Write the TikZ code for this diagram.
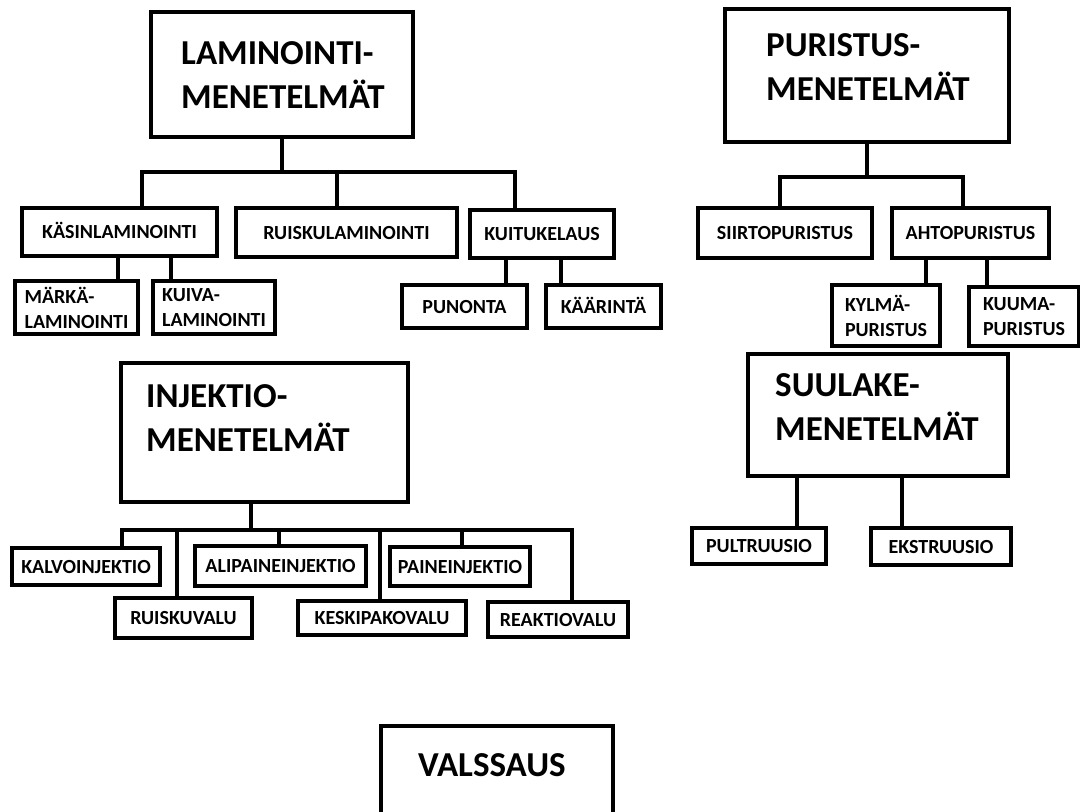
\documentclass[tikz,border=0pt]{standalone}
\usepackage{fontspec}
\setmainfont{Carlito}
\usetikzlibrary{positioning}

\begin{document}
\begin{tikzpicture}
[x=1pt, y=-1pt,
MethodNode/.style={rectangle, draw=black, line width=4.5pt, inner sep=0pt},
BoxBase/.style={rectangle, draw=black, line width=4.5pt, inner sep=0pt,
  font=\fontsize{20}{25}\selectfont\bfseries},
SubNode/.style={BoxBase, align=center, text height=13pt, text depth=0pt},
TwoLineNode/.style={BoxBase, align=left},
TitleText/.style={anchor=west, inner sep=0pt, align=left,
  font=\fontsize{35}{44}\selectfont\bfseries},
Link/.style={draw=black, line width=4.5pt}
]
\useasboundingbox (0,0) rectangle (1080,812);
\clip (0,0) rectangle (1080,812);

% laminointi
\node[MethodNode, minimum width=262pt, minimum height=125pt] (Laminointi) at (282,74.5) {};
\node[TitleText] (LaminointiText) at (181,75) {LAMINOINTI-\\MENETELMÄT};
\node[SubNode, minimum width=195pt, minimum height=48pt] (Kasin) at (119.5,232) {KÄSINLAMINOINTI};
\node[SubNode, minimum width=221pt, minimum height=49pt] (Ruisku) at (346.5,232.5) {RUISKULAMINOINTI};
\node[SubNode, minimum width=144pt, minimum height=48pt] (Kuitu) at (542,234) {KUITUKELAUS};
\node[TwoLineNode, minimum width=123pt, minimum height=53pt] (Marka) at (76.5,307.5) {MÄRKÄ-\\LAMINOINTI};
\node[TwoLineNode, minimum width=122pt, minimum height=53pt] (Kuiva) at (214,307.5) {KUIVA-\\LAMINOINTI};
\node[SubNode, minimum width=125pt, minimum height=43pt] (Punonta) at (464.5,306.5) {PUNONTA};
\node[SubNode, minimum width=115pt, minimum height=43pt] (Kaarinta) at (603.5,306.5) {KÄÄRINTÄ};

\coordinate (LamBarL) at (142,172);
\coordinate (LamBarM) at (337,172);
\coordinate (LamBarR) at (515,172);
\coordinate (KasinA) at (118,256);
\coordinate (KasinB) at (171,256);
\coordinate (KuituA) at (506,258);
\coordinate (KuituB) at (561,258);

\draw[Link] (Laminointi.south) -- (Laminointi.south |- LamBarL);
\draw[Link] (LamBarL |- Kasin.north) -- (LamBarL) -- (LamBarR) -- (LamBarR |- Kuitu.north);
\draw[Link] (LamBarM) -- (LamBarM |- Ruisku.north);
\draw[Link] (KasinA) -- (KasinA |- Marka.north);
\draw[Link] (KasinB) -- (KasinB |- Kuiva.north);
\draw[Link] (KuituA) -- (KuituA |- Punonta.north);
\draw[Link] (KuituB) -- (KuituB |- Kaarinta.north);

% puristus
\node[MethodNode, minimum width=284pt, minimum height=133pt] (Puristus) at (867,75.5) {};
\node[TitleText] (PuristusText) at (766,67.5) {PURISTUS-\\MENETELMÄT};
\node[SubNode, minimum width=174pt, minimum height=50pt] (Siirto) at (785,233) {SIIRTOPURISTUS};
\node[SubNode, minimum width=157pt, minimum height=50pt] (Ahto) at (970.5,233) {AHTOPURISTUS};
\node[TwoLineNode, minimum width=108pt, minimum height=61pt] (Kylma) at (886,315.5) {KYLMÄ-\\PURISTUS};
\node[TwoLineNode, minimum width=110pt, minimum height=59pt] (Kuuma) at (1024,316.5) {KUUMA-\\PURISTUS};

\coordinate (PurBarL) at (780,177);
\coordinate (PurBarR) at (963,177);
\coordinate (AhtoA) at (926,258);
\coordinate (AhtoB) at (987,258);

\draw[Link] (Puristus.south) -- (Puristus.south |- PurBarL);
\draw[Link] (PurBarL |- Siirto.north) -- (PurBarL) -- (PurBarR) -- (PurBarR |- Ahto.north);
\draw[Link] (AhtoA) -- (AhtoA |- Kylma.north);
\draw[Link] (AhtoB) -- (AhtoB |- Kuuma.north);

% suulake
\node[MethodNode, minimum width=260pt, minimum height=122pt] (Suulake) at (878,415) {};
\node[TitleText] (SuulakeText) at (775,407.5) {SUULAKE-\\MENETELMÄT};
\node[SubNode, minimum width=134pt, minimum height=36pt] (Pultruusio) at (759,546) {PULTRUUSIO};
\node[SubNode, minimum width=140pt, minimum height=37pt] (Ekstruusio) at (941,546.5) {EKSTRUUSIO};

\coordinate (SuuA) at (797,476);
\coordinate (SuuB) at (902,476);
\draw[Link] (SuuA) -- (SuuA |- Pultruusio.north);
\draw[Link] (SuuB) -- (SuuB |- Ekstruusio.north);

% injektio
\node[MethodNode, minimum width=287pt, minimum height=139pt] (Injektio) at (264.5,432.5) {};
\node[TitleText] (InjektioText) at (146,418) {INJEKTIO-\\MENETELMÄT};
\node[SubNode, minimum width=148pt, minimum height=37pt] (Kalvo) at (86,566.5) {KALVOINJEKTIO};
\node[SubNode, minimum width=137pt, minimum height=40pt] (Ruiskuvalu) at (183.5,618) {RUISKUVALU};
\node[SubNode, minimum width=171pt, minimum height=40pt] (Alipaine) at (280.5,566) {ALIPAINEINJEKTIO};
\node[SubNode, minimum width=168pt, minimum height=34pt] (Keskipako) at (382,618) {KESKIPAKOVALU};
\node[SubNode, minimum width=140pt, minimum height=39pt] (Paine) at (460,566.5) {PAINEINJEKTIO};
\node[SubNode, minimum width=140pt, minimum height=35pt] (Reaktio) at (558,619.5) {REAKTIOVALU};

\coordinate (InjTop) at (251,502);
\coordinate (InjBarL) at (122,530);
\coordinate (InjBarR) at (572,530);
\coordinate (InjB) at (177,530);
\coordinate (InjC) at (279,530);
\coordinate (InjD) at (380,530);
\coordinate (InjE) at (462,530);

\draw[Link] (InjTop) -- (InjTop |- InjBarL);
\draw[Link] (InjBarL |- Kalvo.north) -- (InjBarL) -- (InjBarR) -- (InjBarR |- Reaktio.north);
\draw[Link] (InjB) -- (InjB |- Ruiskuvalu.north);
\draw[Link] (InjC) -- (InjC |- Alipaine.north);
\draw[Link] (InjD) -- (InjD |- Keskipako.north);
\draw[Link] (InjE) -- (InjE |- Paine.north);

% valssaus
\node[MethodNode, minimum width=232pt, minimum height=134pt] (Valssaus) at (497,793) {};
\node[TitleText] (ValssausText) at (418,765) {VALSSAUS};
\end{tikzpicture}
\end{document}
